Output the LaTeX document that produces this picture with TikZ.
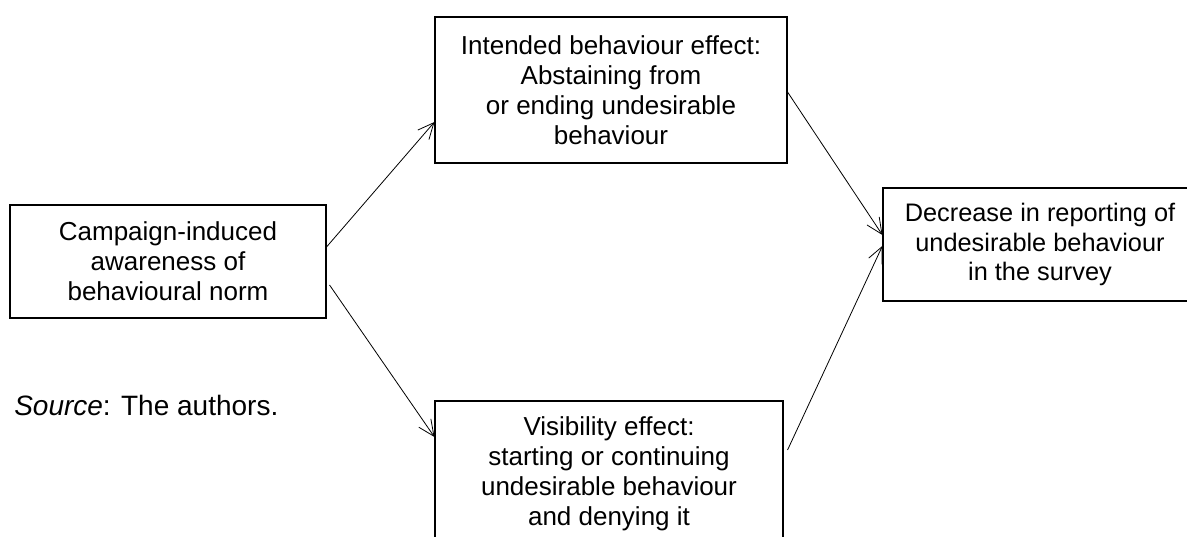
\documentclass[tikz,border=0pt]{standalone}
\usepackage{fontspec}
\setmainfont{Liberation Sans}
\usetikzlibrary{arrows.meta}

\begin{document}
\begin{tikzpicture}[x=0.75pt, y=-0.75pt, >={Straight Barb[length=12pt, width=11pt]}]
    \tikzset{box/.style={draw, line width=0.8pt, align=center, inner sep=0pt, font=\fontsize{19.5}{22.5}\selectfont}}
    \useasboundingbox (0,0) rectangle (1187,536);
    \node[box, minimum width=237pt, minimum height=84.75pt]  (campaign)   at (168,261.5) {Campaign-induced\\awareness of\\behavioural norm};
    \node[box, minimum width=264pt, minimum height=109.5pt]  (intended)   at (611,90)    {Intended behaviour effect:\\Abstaining from\\or ending undesirable\\behaviour};
    \node[box, minimum width=261pt, minimum height=109.5pt]  (visibility) at (609,474)   {Visibility effect:\\starting or continuing\\undesirable behaviour\\and denying it};
    % box runs past the right edge, text sits on its own
    \node[box, minimum width=265.5pt, minimum height=84.75pt] (decrease) at (1060,244.5) {};
    \node[align=center, inner sep=0pt, font=\fontsize{19}{22}\selectfont] (decreasetext) at (1040,244.5) {Decrease in reporting of\\undesirable behaviour\\in the survey};
    \node[anchor=base west, inner sep=0pt, font=\fontsize{21}{24}\selectfont] (source) at (14,415) {\textit{Source}: The authors.};

    \draw[->, line width=0.6pt] ([yshift=10.9pt]campaign.east) -- ([yshift=-24pt]intended.west);
    \draw[->, line width=0.6pt] ([xshift=2.25pt, yshift=-17.6pt]campaign.east) -- ([yshift=27.75pt]visibility.west);
    \draw[->, line width=0.6pt] ([yshift=-1.5pt]intended.east) -- ([yshift=7.1pt]decrease.west);
    \draw[->, line width=0.6pt] ([xshift=3pt, yshift=18pt]visibility.east) -- ([yshift=-1pt]decrease.west);
\end{tikzpicture}
\end{document}
